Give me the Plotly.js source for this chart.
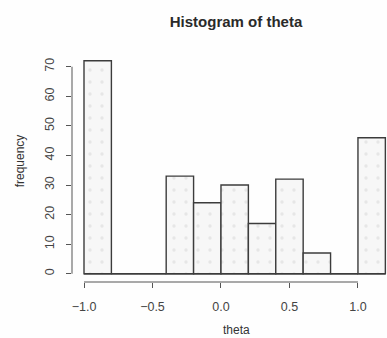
<!DOCTYPE html>
<html>
<head>
<meta charset="utf-8">
<script src="https://cdn.plot.ly/plotly-3.0.1.min.js"></script>
<style>html,body{margin:0;padding:0;background:#fefefe;}#chart{width:387px;height:338px;}</style>
</head>
<body>
<div id="chart"></div>
<script>
// Histogram of theta: bin left edges (width 0.2) and counts
var binStarts = [-1.0, -0.8, -0.6, -0.4, -0.2, 0.0, 0.2, 0.4, 0.6, 0.8, 1.0];
var counts    = [72, 0, 0, 33, 24, 30, 17, 32, 7, 0, 46];
var binWidth = 0.2;
var xTickVals = [-1.0, -0.5, 0.0, 0.5, 1.0];
var xTickText = ['\u22121.0', '\u22120.5', '0.0', '0.5', '1.0'];
var yTickVals = [0, 10, 20, 30, 40, 50, 60, 70];
var yTickText = ['0', '10', '20', '30', '40', '50', '60', '70'];

var centers = binStarts.map(function (b) { return b + binWidth / 2; });
var ink = '#3c3c3c';
var font = 'Liberation Sans, Arial, sans-serif';

var trace = {
  type: 'bar',
  x: centers,
  y: counts,
  width: binWidth,
  marker: {
    color: '#f5f5f5',
    line: {color: ink, width: 1.4},
    pattern: {shape: '.', fgcolor: '#e6e6e6', bgcolor: '#f7f7f7', size: 12, solidity: 0.06}
  },
  hoverinfo: 'x+y'
};

var layout = {
  width: 387, height: 338,
  margin: {l: 72, r: 0, t: 40, b: 56},
  paper_bgcolor: '#fefefe',
  plot_bgcolor: '#fefefe',
  showlegend: false,
  bargap: 0,
  title: {
    text: '<b>Histogram of theta</b>',
    font: {family: font, size: 15, color: '#2a2a2a'},
    x: 236 / 387, xanchor: 'center', xref: 'container',
    y: 1 - 22 / 338, yanchor: 'middle', yref: 'container'
  },
  xaxis: {
    range: [-1.0876, 1.212],
    showgrid: false, zeroline: false, showline: false,
    tickmode: 'array', tickvals: xTickVals, ticktext: xTickText,
    ticks: 'outside', ticklen: 5, tickwidth: 1, tickcolor: '#555',
    ticklabelstandoff: 8,
    tickfont: {family: font, size: 12.5, color: '#444'}
  },
  yaxis: {
    range: [-2.8, 79.04],
    showgrid: false, zeroline: false, showline: false,
    tickmode: 'array', tickvals: yTickVals, ticktext: yTickText,
    ticks: 'outside', ticklen: 5, tickwidth: 1, tickcolor: '#555',
    tickangle: -90,
    ticklabelstandoff: 7,
    tickfont: {family: font, size: 12.5, color: '#444'},
    title: {text: 'frequency', font: {family: font, size: 12, color: '#333'}, standoff: 15}
  },
  annotations: [
    {text: 'theta', xref: 'paper', yref: 'paper', x: (236 - 72) / 315, y: -(330 - 282) / 242,
     xanchor: 'center', yanchor: 'middle', showarrow: false,
     font: {family: font, size: 12, color: '#333'}}
  ],
  shapes: [
    // x axis line spanning -1 to 1
    {type: 'line', xref: 'x', yref: 'paper', x0: -1.0, x1: 1.0, y0: 0, y1: 0,
     line: {color: '#555', width: 1}},
    // y axis line spanning 0 to 70
    {type: 'line', xref: 'paper', yref: 'y', x0: 0, x1: 0, y0: 0, y1: 70,
     line: {color: '#555', width: 1}},
    // histogram baseline (zero-height bins drawn as a line)
    {type: 'line', xref: 'x', yref: 'y', x0: binStarts[0], x1: binStarts[binStarts.length - 1] + binWidth, y0: 0, y1: 0,
     line: {color: ink, width: 1.4}}
  ]
};

Plotly.newPlot('chart', [trace], layout, {displayModeBar: false, staticPlot: true});
</script>
</body>
</html>
